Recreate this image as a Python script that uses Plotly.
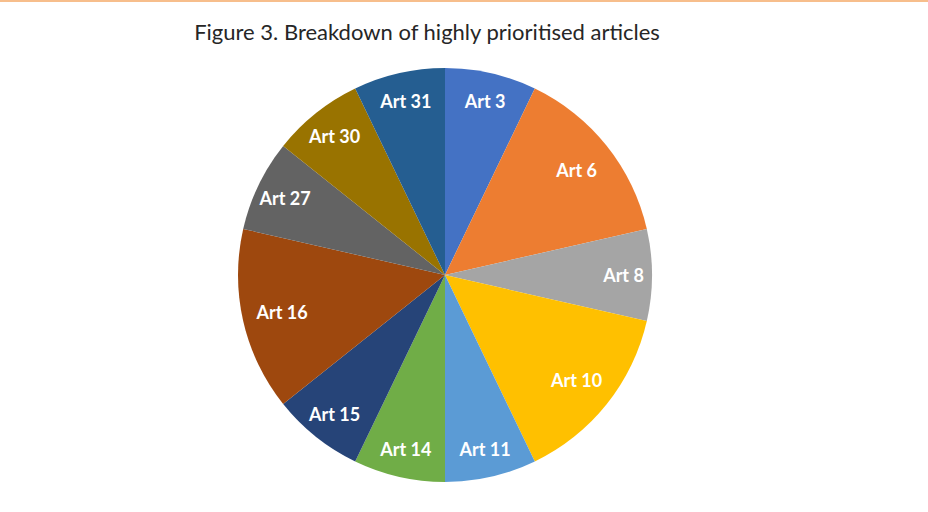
import plotly.graph_objects as go

labels = ["Art 3", "Art 6", "Art 8", "Art 10", "Art 11", "Art 14",
          "Art 15", "Art 16", "Art 27", "Art 30", "Art 31"]
values = [1, 2, 1, 2, 1, 1, 1, 2, 1, 1, 1]
colors = ["#4472C4", "#ED7D31", "#A5A5A5", "#FFC000", "#5B9BD5", "#70AD47",
          "#264478", "#9E480E", "#636363", "#997300", "#255E91"]

W, H = 928, 512
cx, cy, r = 445, 275, 207
dom = dict(x=[(cx - r) / W, (cx + r) / W], y=[(H - cy - r) / H, (H - cy + r) / H])

fig = go.Figure()
# coloured slices
fig.add_trace(go.Pie(
    labels=labels, values=values, sort=False, direction="clockwise", rotation=0,
    marker=dict(colors=colors, line=dict(width=0)),
    textinfo="none", domain=dom, showlegend=False, hoverinfo="label+value",
))

# labels placed in transparent rings, like the reference
clear = ["rgba(0,0,0,0)"] * len(labels)
for hole, keep in ((0.72, lambda v: v == 1), (0.62, lambda v: v != 1)):
    fig.add_trace(go.Pie(
        labels=labels, values=values, sort=False, direction="clockwise", rotation=0,
        hole=hole,
        text=[lab if keep(v) else "" for lab, v in zip(labels, values)],
        marker=dict(colors=clear, line=dict(width=0)),
        textinfo="text", textposition="inside", insidetextorientation="horizontal",
        textfont=dict(family="Lato", size=18, color="white", weight="bold"),
        domain=dom, showlegend=False, hoverinfo="skip",
    ))

fig.update_layout(
    width=W, height=H,
    margin=dict(l=0, r=0, t=0, b=0),
    paper_bgcolor="white",
    plot_bgcolor="white",
    title=dict(text="Figure 3. Breakdown of highly prioritised articles",
               x=427 / W, xanchor="center", y=1 - 32 / H, yanchor="middle",
               font=dict(family="Lato", size=22, color="#262626")),
    shapes=[dict(type="rect", xref="paper", yref="paper", x0=0, x1=1,
                 y0=1 - 2 / H, y1=1, fillcolor="#F7BE8C", line=dict(width=0))],
)

fig.write_html("out.html", config={"displayModeBar": False},
               post_script="document.body.style.margin='0';")
